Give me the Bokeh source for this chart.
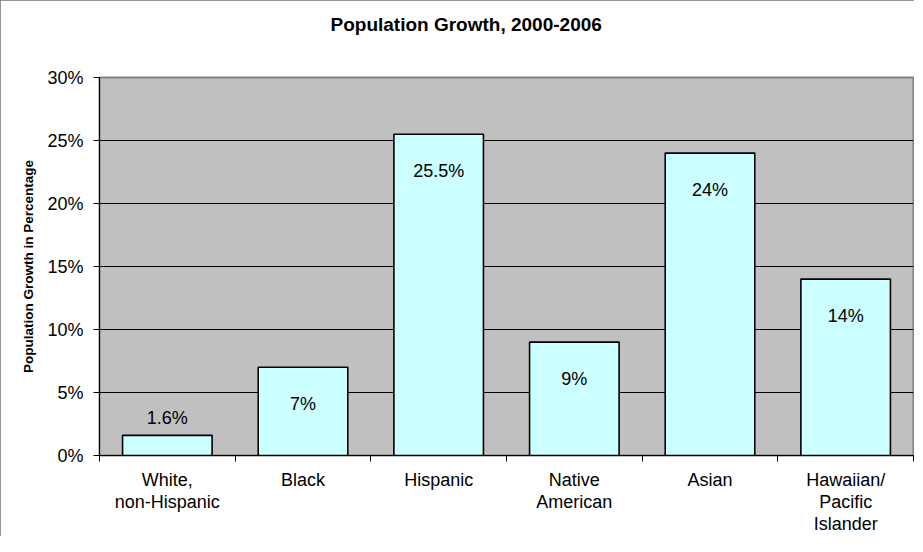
from bokeh.plotting import figure
from bokeh.models import FixedTicker, PrintfTickFormatter, Range1d, ColumnDataSource, Title
from bokeh.embed import file_html
from bokeh.resources import INLINE
from bokeh.core.properties import value

# ---- data ----
categories = ["White,\nnon-Hispanic", "Black", "Hispanic", "Native\nAmerican",
              "Asian", "Hawaiian/\nPacific\nIslander"]
growth = [1.6, 7, 25.5, 9, 24, 14]
growth_labels = ["1.6%", "7%", "25.5%", "9%", "24%", "14%"]
y_ticks = [0, 5, 10, 15, 20, 25, 30]
title_text = "Population Growth, 2000-2006"

FONT = "Liberation Sans"
xs = list(range(1, len(categories) + 1))

p = figure(width=914, height=536, output_backend="svg", toolbar_location=None, title=None,
           x_range=Range1d(0.5, len(categories) + 0.5), y_range=Range1d(0, 30),
           min_border_left=99, min_border_right=1, min_border_top=77, min_border_bottom=81)
p.styles = {"outline": "1px solid #707070", "outline-offset": "-1px"}
p.background_fill_color = "#C0C0C0"
p.border_fill_color = "white"
p.outline_line_color = "#808080"
p.outline_line_width = 2

# empty spacer between frame and title, then the title itself
p.add_layout(Title(text=" ", text_font=FONT, text_font_size="19px", standoff=20), "above")
p.add_layout(Title(text=title_text, text_font=FONT, text_font_size="19px",
                   text_font_style="bold", text_color="black", align="left",
                   offset=231, standoff=0), "above")

# bars
p.vbar(x=xs, top=growth, bottom=0, width=0.66, fill_color="#CCFFFF",
       line_color="black", line_width=1.6)

# value labels: inside the top of tall bars, above short bars
offsets = [-17 if v < 4 else 37 for v in growth]
src = ColumnDataSource(dict(x=xs, y=growth, text=growth_labels, dy=offsets))
p.text(x="x", y="y", text="text", y_offset="dy", source=src,
       text_font=value(FONT), text_font_size="18px", text_color="black",
       text_align="center", text_baseline="middle")

# grid
p.xgrid.visible = False
p.ygrid.ticker = FixedTicker(ticks=y_ticks)
p.ygrid.grid_line_color = "black"
p.ygrid.grid_line_width = 1

# y axis
p.yaxis.ticker = FixedTicker(ticks=y_ticks)
p.yaxis.formatter = PrintfTickFormatter(format="%d%%")
p.yaxis.major_tick_in = 0
p.yaxis.major_tick_out = 6
p.yaxis.minor_tick_line_color = None
p.yaxis.axis_line_color = "black"
p.yaxis.major_tick_line_color = "black"
p.yaxis.major_label_text_font = FONT
p.yaxis.major_label_text_font_size = "18px"
p.yaxis.major_label_text_color = "black"
p.yaxis.major_label_standoff = 10
p.yaxis.axis_label = "Population Growth in Percentage"
p.yaxis.axis_label_text_font = FONT
p.yaxis.axis_label_text_font_size = "13.5px"
p.yaxis.axis_label_text_font_style = "bold"
p.yaxis.axis_label_text_color = "black"
p.yaxis.axis_label_standoff = 8

# x axis
p.xaxis.ticker = FixedTicker(ticks=xs, minor_ticks=[i + 0.5 for i in range(0, len(categories) + 1)])
p.xaxis.major_label_overrides = {x: c for x, c in zip(xs, categories)}
p.xaxis.major_tick_in = 0
p.xaxis.major_tick_out = 0
p.xaxis.minor_tick_in = 0
p.xaxis.minor_tick_out = 6
p.xaxis.minor_tick_line_color = "black"
p.xaxis.axis_line_color = "black"
p.xaxis.major_label_text_font = FONT
p.xaxis.major_label_text_font_size = "18px"
p.xaxis.major_label_text_color = "black"
p.xaxis.major_label_text_line_height = 1.1
p.xaxis.major_label_standoff = 8

open("out.html", "w").write(file_html(p, INLINE))
